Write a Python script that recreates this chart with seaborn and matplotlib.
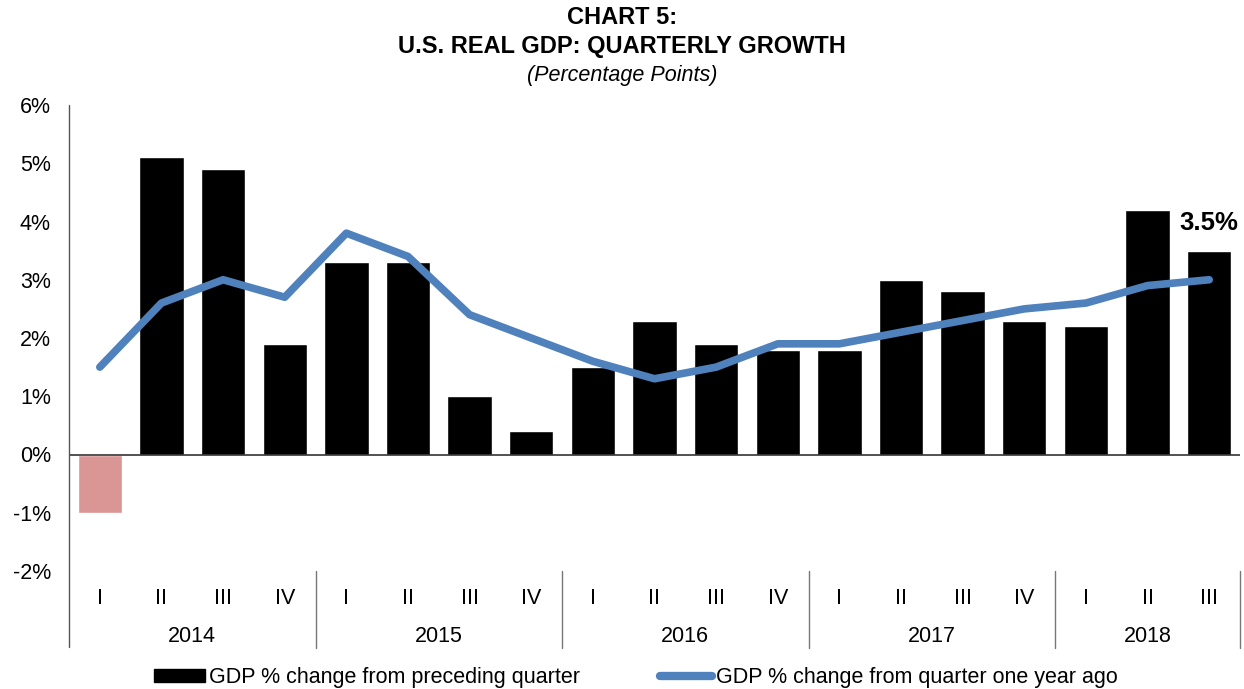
import numpy as np
import pandas as pd
import matplotlib
matplotlib.use("Agg")
import matplotlib.pyplot as plt
import seaborn as sns
from matplotlib.patches import Patch
from matplotlib.lines import Line2D

years = ["2014", "2015", "2016", "2017", "2018"]
quarters = ["I", "II", "III", "IV"]
periods = [f"{y} {q}" for y in years for q in quarters][:19]
quarter_labels = [p.split(" ")[1] for p in periods]
qoq_growth = [-1.0, 5.1, 4.9, 1.9, 3.3, 3.3, 1.0, 0.4, 1.5, 2.3, 1.9, 1.8,
              1.8, 3.0, 2.8, 2.3, 2.2, 4.2, 3.5]
yoy_growth = [1.5, 2.6, 3.0, 2.7, 3.8, 3.4, 2.4, 2.0, 1.6, 1.3, 1.5, 1.9,
              1.9, 2.1, 2.3, 2.5, 2.6, 2.9, 3.0]
y_ticks = [-2, -1, 0, 1, 2, 3, 4, 5, 6]

sns.set_theme(style="white")
plt.rcParams['font.family'] = ['Liberation Sans', 'DejaVu Sans']
plt.rcParams['text.color'] = 'black'
plt.rcParams['ytick.color'] = 'black'
plt.rcParams['xtick.color'] = 'black'

BAR = "#000000"
NEG = "#DA9694"
LINE = "#4F81BD"

df = pd.DataFrame({"period": periods, "qoq": qoq_growth, "yoy": yoy_growth})
df["sign"] = np.where(df["qoq"] < 0, "neg", "pos")
df["pos"] = np.arange(len(df))

fig = plt.figure(figsize=(12.44, 6.89), dpi=100)
ax = fig.add_axes([69/1244, 1-571/689, (1240-69)/1244, (571-105)/689])

sns.barplot(data=df, x="period", y="qoq", hue="sign",
            palette={"pos": BAR, "neg": NEG}, width=0.72, dodge=False,
            legend=False, ax=ax, saturation=1)
sns.lineplot(data=df, x="pos", y="yoy", color=LINE, linewidth=5.5,
             ax=ax, solid_capstyle="round", solid_joinstyle="round")

ax.set_xlim(-0.5, len(periods) - 0.5)
ax.set_ylim(-2, 6)
ax.set_yticks(y_ticks)
ax.set_yticklabels([f"{t}%" for t in y_ticks], fontsize=15.5)
ax.tick_params(axis="y", length=0, pad=13)
ax.set_xticks([])
ax.set_xlabel("")
ax.set_ylabel("")
for s in ["top", "right", "bottom", "left"]:
    ax.spines[s].set_visible(False)
ax.axhline(0, color="#333333", linewidth=1.2, zorder=3)

# y axis line extending below the plot
fig.add_artist(Line2D([69/1244, 69/1244], [1-105/689, 1-647/689],
                      transform=fig.transFigure, color="#555555", linewidth=1))

# quarter labels and year separators
trans = ax.get_xaxis_transform()
for i, q in enumerate(quarter_labels):
    ax.text(i, -0.058, q, transform=trans, ha="center", va="center",
            fontsize=15.5, clip_on=False)
for y in years:
    idx = [i for i, p in enumerate(periods) if p.startswith(y)]
    center = (idx[0] + idx[-1]) / 2
    ax.text(center, -0.1416, y, transform=trans, ha="center", va="center",
            fontsize=15.5, clip_on=False)
    right = idx[-1] + 0.5
    ax.add_line(Line2D([right, right], [0, -0.165], transform=trans,
                       color="#777777", linewidth=1, clip_on=False))

# last value annotation
ax.text(len(periods) - 1, qoq_growth[-1] + 0.27, f"{qoq_growth[-1]}%",
        ha="center", va="bottom", fontsize=18.5, fontweight="bold")

fig.text(0.5, 1-18/689, "CHART 5:", ha="center", va="center",
         fontsize=17, fontweight="bold")
fig.text(0.5, 1-47/689, "U.S. REAL GDP: QUARTERLY GROWTH", ha="center",
         va="center", fontsize=17, fontweight="bold")
fig.text(0.5, 1-75/689, "(Percentage Points)", ha="center", va="center",
         fontsize=15.5, fontstyle="italic")

handles = [Patch(facecolor=BAR, edgecolor=BAR),
           Line2D([0], [0], color=LINE, linewidth=6, solid_capstyle="round")]
labels = ["GDP % change from preceding quarter",
          "GDP % change from quarter one year ago"]
fig.legend(handles, labels, loc="center", bbox_to_anchor=(0.511, 1-678/689),
           ncol=2, frameon=False, fontsize=15.5, handlelength=2.4,
           handleheight=0.55, handletextpad=0.2, columnspacing=3.7,
           borderpad=0, borderaxespad=0)

fig.savefig("out.png", dpi=100)
